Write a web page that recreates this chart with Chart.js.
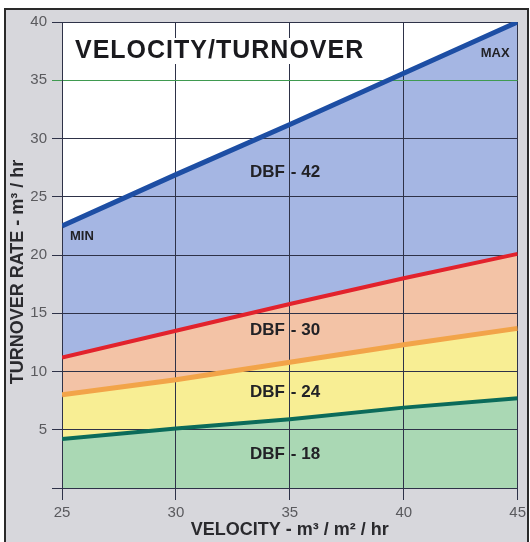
<!DOCTYPE html>
<html>
<head>
<meta charset="utf-8">
<script src="https://cdn.jsdelivr.net/npm/chart.js"></script>
<style>
  body { margin: 0; background: #fff; }
  #wrap { position: relative; width: 530px; height: 542px; overflow: hidden; }
  #frame { position: absolute; left: 4px; top: 8px; width: 521px; height: 540px; background: #d7d7dc; border: 2px solid #2a2a2a; }
  #plotbg { position: absolute; background: #fff; }
  #c { position: absolute; left: 0; top: 0; }
</style>
</head>
<body>
<div id="wrap">
  <div id="frame"></div>
  <div id="plotbg"></div>
  <canvas id="c" width="530" height="542"></canvas>
</div>
<script>
// velocity (m3/m2/hr) vs turnover rate (m3/hr)
var velocity = [25, 30, 35, 40, 45];
var dbf18 = [4.2, 5.1, 5.9, 6.9, 7.7];
var dbf24 = [8.0, 9.3, 10.8, 12.3, 13.7];
var dbf30 = [11.2, 13.5, 15.8, 18.0, 20.1];
var dbf42 = [22.5, 26.9, 31.2, 35.6, 40.0];

var zoneNames = ['DBF - 18', 'DBF - 24', 'DBF - 30', 'DBF - 42'];
var zoneLabelY = [2.9, 8.2, 13.5, 27.1];

var GRID = '#2e3248';
var FONT = "'Liberation Sans', Arial, sans-serif";

function pts(arr) {
  return velocity.map(function (v, i) { return { x: v, y: arr[i] }; });
}

var notes = {
  id: 'notes',
  afterLayout: function (chart) {
    var a = chart.chartArea;
    var bg = document.getElementById('plotbg');
    bg.style.left = a.left + 'px';
    bg.style.top = a.top + 'px';
    bg.style.width = (a.right - a.left) + 'px';
    bg.style.height = (a.bottom - a.top) + 'px';
  },
  afterDraw: function (chart) {
    var ctx = chart.ctx, x = chart.scales.x, y = chart.scales.y, a = chart.chartArea;
    ctx.save();
    // big title with white box
    ctx.fillStyle = '#fff';
    ctx.fillRect(a.left + 10, a.top + 16, 305, 26);
    ctx.fillStyle = '#1a1a1e';
    ctx.font = 'bold 25px ' + FONT;
    ctx.letterSpacing = '1px';
    ctx.textAlign = 'left';
    ctx.textBaseline = 'middle';
    ctx.fillText('VELOCITY/TURNOVER', a.left + 13, a.top + 29);
    ctx.letterSpacing = '0px';

    // zone names split at the 35 gridline
    ctx.font = 'bold 17px ' + FONT;
    ctx.fillStyle = '#222226';
    var xm = x.getPixelForValue(35);
    zoneNames.forEach(function (n, i) {
      var parts = n.split(' - ');
      var yy = y.getPixelForValue(zoneLabelY[i]);
      ctx.textAlign = 'right';
      ctx.fillText(parts[0], xm - 5, yy);
      ctx.textAlign = 'left';
      ctx.fillText('- ' + parts[1], xm + 1, yy);
    });

    ctx.font = 'bold 13px ' + FONT;
    ctx.textAlign = 'left';
    ctx.fillText('MIN', a.left + 8, y.getPixelForValue(21.6));
    ctx.textAlign = 'right';
    ctx.fillText('MAX', a.right - 8, y.getPixelForValue(37.3));

    // y axis title
    ctx.translate(18, (a.top + a.bottom) / 2 + 17);
    ctx.rotate(-Math.PI / 2);
    ctx.textAlign = 'center';
    ctx.font = 'bold 18px ' + FONT;
    ctx.fillStyle = '#2a2a2e';
    ctx.fillText('TURNOVER RATE - m³ / hr', 0, 0);
    ctx.restore();
  }
};

var ctx = document.getElementById('c').getContext('2d');
var chart = new Chart(ctx, {
  type: 'line',
  data: {
    // top band first so no fill points at dataset 0
    datasets: [
      { label: 'DBF-42', data: pts(dbf42), borderColor: '#1d4ea4', borderWidth: 5, backgroundColor: '#a5b6e3', fill: 1 },
      { label: 'DBF-30', data: pts(dbf30), borderColor: '#e2222c', borderWidth: 4, backgroundColor: '#f3c3a6', fill: 2 },
      { label: 'DBF-24', data: pts(dbf24), borderColor: '#f2a449', borderWidth: 5, backgroundColor: '#f8ee94', fill: 3 },
      { label: 'DBF-18', data: pts(dbf18), borderColor: '#0b6b5a', borderWidth: 4, backgroundColor: '#aad8b4', fill: 'origin' }
    ]
  },
  options: {
    responsive: false,
    animation: false,
    layout: { padding: { left: 0, top: 22, right: 10, bottom: 0 } },
    elements: { point: { radius: 0 }, line: { tension: 0, borderCapStyle: 'butt' } },
    plugins: {
      legend: { display: false },
      tooltip: { enabled: false },
      filler: { drawTime: 'beforeDraw' }
    },
    scales: {
      x: {
        type: 'linear',
        min: 25,
        max: 45,
        afterFit: function (s) { s.height = 54; },
        ticks: { stepSize: 5, color: '#5a5a5e', font: { family: FONT, size: 15 }, padding: 4 },
        grid: { color: GRID, lineWidth: 1, tickLength: 12 },
        border: { color: GRID, width: 1 },
        title: {
          display: true,
          text: 'VELOCITY - m³ / m² / hr',
          color: '#2a2a2e',
          font: { family: FONT, size: 18, weight: 'bold' },
          padding: { top: 0, bottom: 1 }
        }
      },
      y: {
        min: 0,
        max: 40,
        afterFit: function (s) { s.width = 62; },
        ticks: {
          stepSize: 5,
          color: '#5a5a5e',
          font: { family: FONT, size: 15 },
          padding: 5,
          callback: function (v) { return v === 0 ? '' : v; }
        },
        grid: {
          lineWidth: 1,
          tickLength: 10,
          color: function (c) { return c.tick && c.tick.value === 35 ? '#3f9a50' : GRID; }
        },
        border: { color: GRID, width: 1 }
      }
    }
  },
  plugins: [notes]
});
</script>
</body>
</html>
